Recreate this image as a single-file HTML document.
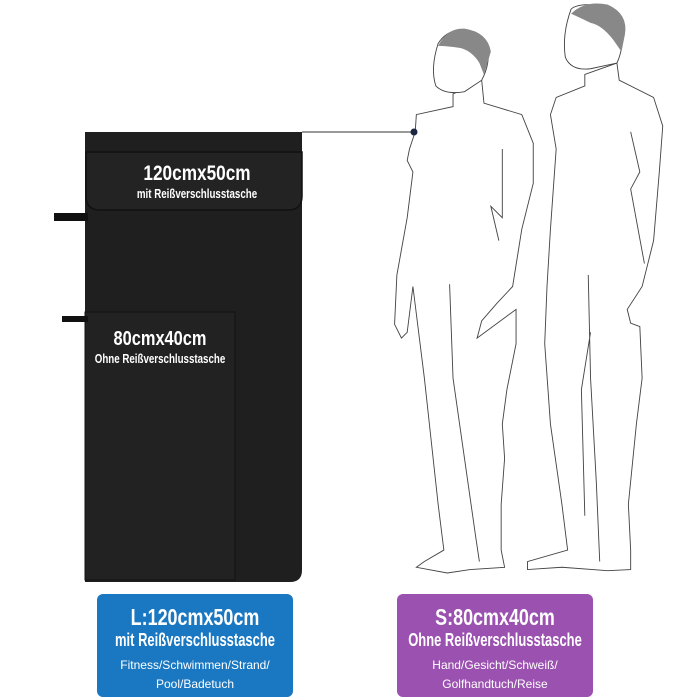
<!DOCTYPE html><html><head><style>
body{margin:0;width:700px;height:700px;background:#fff;position:relative;overflow:hidden;font-family:"Liberation Sans",sans-serif}
.box{position:absolute;top:594px;width:196px;height:103px;border-radius:6px;color:#fff;text-align:center}
.t1{font-weight:bold;font-size:23px;margin:10px -60px 0;line-height:26px;transform:scaleX(.78);white-space:nowrap}
.t2{font-weight:bold;font-size:18px;line-height:20px;margin:0 -60px;transform:scaleX(.72);white-space:nowrap}
.t3{font-size:12px;line-height:19px;margin-top:6px}
</style></head><body>
<svg width="700" height="700" style="position:absolute;left:0;top:0">
<path d="M85,132 H302 V570 Q302,582 290,582 H85 Z" fill="#1f1f1f"/>
<path d="M86,152 H302 V196 Q302,210 288,210 H100 Q86,210 86,196 Z" fill="#232323" stroke="#111" stroke-width="1.5"/>
<rect x="85" y="312" width="150" height="268" fill="#222" stroke="#111"/>
<rect x="54" y="213" width="34" height="8" fill="#111"/>
<rect x="62" y="316" width="26" height="6" fill="#111"/>
<g font-family="Liberation Sans,sans-serif" font-weight="bold" fill="#fff" text-anchor="middle">
<text x="0" y="0" font-size="21" transform="translate(197,180) scale(.82,1)">120cmx50cm</text>
<text x="0" y="0" font-size="13" transform="translate(197,198) scale(.75,1)">mit Reißverschlusstasche</text>
<text x="0" y="0" font-size="20" transform="translate(160,345) scale(.82,1)">80cmx40cm</text>
<text x="0" y="0" font-size="13" transform="translate(160,363) scale(.75,1)">Ohne Reißverschlusstasche</text>
</g>
<g transform="translate(390,0) scale(1.146) translate(-390,0)" fill="#fff" stroke="#444" stroke-width="0.8">
<path d="M560,65 L560,75 L535,85 L530,100 L535,130 L530,200 L527,250 L525,300 L530,370 L540,440 L545,480 L510,490 L510,497 L540,495 L580,498 L600,497 L600,480 L598,440 L605,370 L610,330 L608,285 L600,282 L597,270 L610,250 L620,210 L625,150 L628,110 L620,85 L590,70 L588,55 Z"/>
<path d="M600,115 L608,150 L600,165 L612,230 M563,240 L565,330 L570,420 L573,490 M565,290 L557,340 L560,450" fill="none"/>
<path d="M548,8 Q540,30 543,50 Q548,62 565,60 L588,55 Q595,40 592,20 Q585,2 565,4 Q552,4 548,8 Z"/>
<path d="M548,12 Q560,0 580,4 Q598,12 595,30 L592,45 L585,35 Q575,22 565,20 Q555,15 548,12 Z" fill="#888" stroke="none"/>
<path d="M445,82 L445,93 L413,100 L412,115 L407,130 L405,140 L410,150 L405,190 L396,240 L394,283 L400,295 L405,290 L410,250 L420,330 L432,440 L437,480 L420,490 L413,495 L440,500 L460,497 L490,495 L487,480 L487,440 L490,400 L488,370 L492,340 L500,300 L500,270 L466,295 L470,280 L483,265 L497,250 L505,200 L515,160 L515,125 L505,100 L472,90 L470,70 Z"/>
<path d="M488,130 L488,190 L478,180 L485,210 M442,248 L445,330 L465,470 L468,490" fill="none"/>
<path d="M432,38 Q425,60 430,75 Q438,83 455,80 L470,70 Q478,55 475,40 Q468,25 450,26 Q438,28 432,38 Z"/>
<path d="M432,40 Q440,24 455,25 Q475,28 478,45 L472,65 L468,55 Q462,45 452,42 Q440,40 432,40 Z" fill="#888" stroke="none"/>
</g>
<line x1="302" y1="132" x2="413" y2="132" stroke="#333" stroke-width="1"/>
<circle cx="414" cy="132" r="3.5" fill="#1a2540"/>
</svg>
<div class="box" style="left:97px;background:#1a78c2"><div class="t1">L:120cmx50cm</div><div class="t2">mit Reißverschlusstasche</div><div class="t3">Fitness/Schwimmen/Strand/<br>Pool/Badetuch</div></div>
<div class="box" style="left:397px;background:#9b51b0"><div class="t1">S:80cmx40cm</div><div class="t2">Ohne Reißverschlusstasche</div><div class="t3">Hand/Gesicht/Schweiß/<br>Golfhandtuch/Reise</div></div>
</body></html>
